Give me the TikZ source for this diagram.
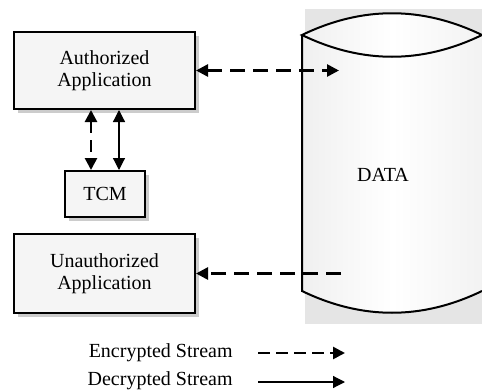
\documentclass[tikz,border=0pt]{standalone}
\usepackage{fontspec}
\setmainfont{Liberation Serif}
\usetikzlibrary{arrows.meta,shadows,calc}
\begin{document}
\begin{tikzpicture}[x=0.5pt,y=-0.5pt,
  appbox/.style={draw=black, line width=1pt, fill=gray!8, minimum width=90.5pt,
    inner sep=0pt, align=center, font=\fontsize{10}{11}\selectfont,
    drop shadow={shadow xshift=2pt, shadow yshift=-2pt, fill=gray!40, opacity=1}},
  tip/.style={arrows={-Triangle[length=6pt,width=6pt]}},
  tips/.style={arrows={Triangle[length=6pt,width=6pt]-Triangle[length=6pt,width=6pt]}},
  enc/.style={line width=1.3pt, dash pattern=on 7.5pt off 4pt},
  dec/.style={line width=0.6pt},
  lbl/.style={font=\fontsize{10}{11}\selectfont, inner sep=0pt}
]
\useasboundingbox (0,0) rectangle (482,391);
% database
\fill[gray!20] (305,9) rectangle (482,324);
\shade[left color=gray!12, right color=gray!10, middle color=white]
  (302,35) .. controls (362,6) and (422,6) .. (482,35) -- (482,291)
  .. controls (422,320) and (362,320) .. (302,291) -- cycle;
\draw[line width=1pt] (482,35) .. controls (422,6) and (362,6) .. (302,35)
  .. controls (362,64) and (422,64) .. (482,35);
\draw[line width=1pt] (302,35) -- (302,291) .. controls (362,320) and (422,320) .. (482,291);
\node[lbl] (data) at (383,175) {DATA};
% boxes
\node[appbox, minimum height=38.5pt] (auth) at (104.5,70.5) {Authorized\\Application};
\node[appbox, minimum width=40pt, minimum height=23pt] (tcm) at (105,194) {TCM};
\node[appbox, minimum height=39.5pt] (unauth) at (104.5,273.5) {Unauthorized\\Application};
% connectors
\coordinate (dataIn) at (339,70.5);
\coordinate (dataOut) at (341,273.5);
\draw[enc, tips] (auth.east) -- (dataIn);
\draw[enc, tip] (dataOut) -- (unauth.east);
\draw[enc, dash pattern=on 6pt off 3.5pt, tips]
  ($(auth.south)+(-13.5,0)$) -- ($(tcm.north)+(-14,0)$);
\draw[dec, tips]
  ($(auth.south)+(14.5,0)$) -- ($(tcm.north)+(14,0)$);
% legend
\node[lbl, anchor=east] (encl) at (233,353) {Encrypted Stream};
\node[lbl, anchor=east] (decl) at (233,381) {Decrypted Stream};
\coordinate (e1) at (258,353);
\coordinate (e2) at (345,353);
\coordinate (d1) at (258,382);
\coordinate (d2) at (345,382);
\draw[enc, dash pattern=on 6pt off 3pt, tip] (e1) -- (e2);
\draw[dec, tip] (d1) -- (d2);
\end{tikzpicture}
\end{document}
